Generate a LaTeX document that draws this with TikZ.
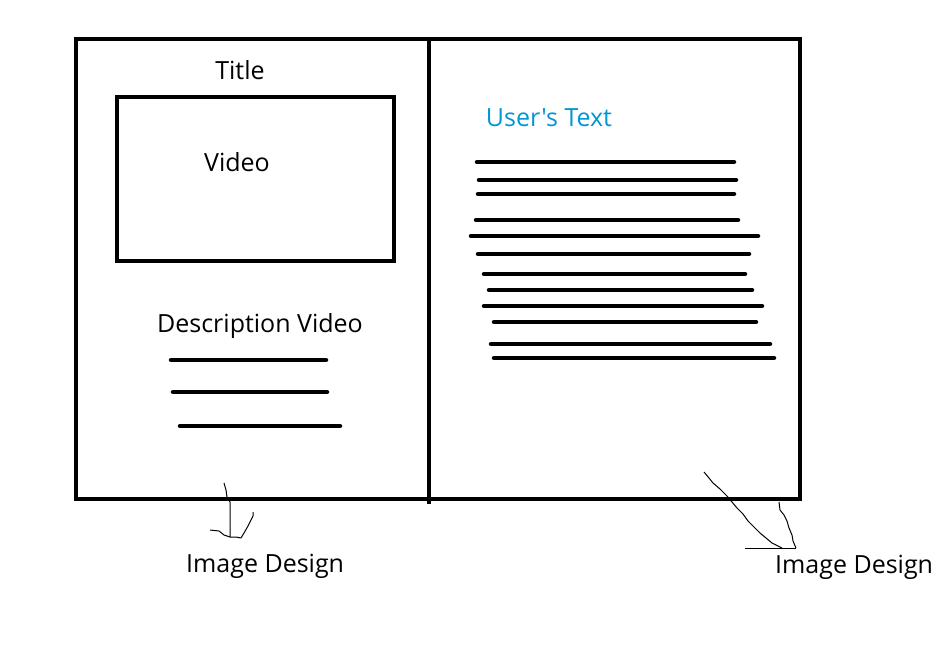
\documentclass[tikz,border=0pt]{standalone}
\usepackage{fontspec}
\setmainfont{Open Sans}[Ligatures=TeXOff]
\begin{document}
\begin{tikzpicture}[x=1pt,y=-1pt,
  frame/.style={draw=black,line width=4.5pt},
  textline/.style={draw=black,line width=4.5pt,line cap=round},
  scribble/.style={draw=black,line width=1pt,line join=round},
  label/.style={inner sep=0pt,font=\fontsize{25}{30}\selectfont},
  userlabel/.style={label,text=userblue}]
\definecolor{userblue}{RGB}{0,150,214}
\useasboundingbox (0,0) rectangle (948,650);
% outer frame and the divider between the two pages
\draw[frame] (76,39) rectangle (800,499);
\draw[frame] (429,39) -- (429,504);
% video placeholder
\draw[frame] (117,97) rectangle (394,261);
% labels
\node[label] (title) at (240,70) {Title};
\node[label] (video) at (237,162) {Video};
\node[label] (desc) at (260,326) {Description Video};
\node[userlabel] (user) at (549,118) {User's Text};
\node[label,anchor=west] (imgL) at (186,566) {Image Design};
\node[label,anchor=west] (imgR) at (775,567) {Image Design};
% description text lines
\foreach \xa/\xb/\y in {171/326/360, 173/327/392, 180/340/426}
  \draw[textline] (\xa,\y) -- (\xb,\y);
% user's text lines
\foreach \xa/\xb/\y in {477/734/162, 479/736/180, 478/734/194, 476/738/220,
  471/758/236, 478/749/254, 484/745/274, 489/752/290, 484/762/306,
  494/756/322, 491/770/344, 494/774/358}
  \draw[textline] (\xa,\y) -- (\xb,\y);
% hand-drawn pointers to the image design labels
\draw[scribble] (224,483) -- (226,490) -- (227,497) -- (230,502) -- (230,537);
\draw[scribble] (210,530) -- (219,531) -- (224,535) -- (230,537) -- (236,537)
  -- (241,538) -- (244,533) -- (248,526) -- (251,520) -- (253,516) -- (253,512);
\draw[scribble] (704,472) -- (709,478) -- (713,483) -- (720,489) -- (727,496)
  -- (732,502) -- (737,508) -- (743,514) -- (748,521) -- (754,527) -- (760,533)
  -- (766,538) -- (772,543) -- (778,546) -- (782,548);
\draw[scribble] (779,502) -- (780,510) -- (784,515) -- (787,521) -- (789,528)
  -- (792,535) -- (793,541) -- (796,548);
\draw[scribble] (745,548) -- (796,548);
\end{tikzpicture}
\end{document}
